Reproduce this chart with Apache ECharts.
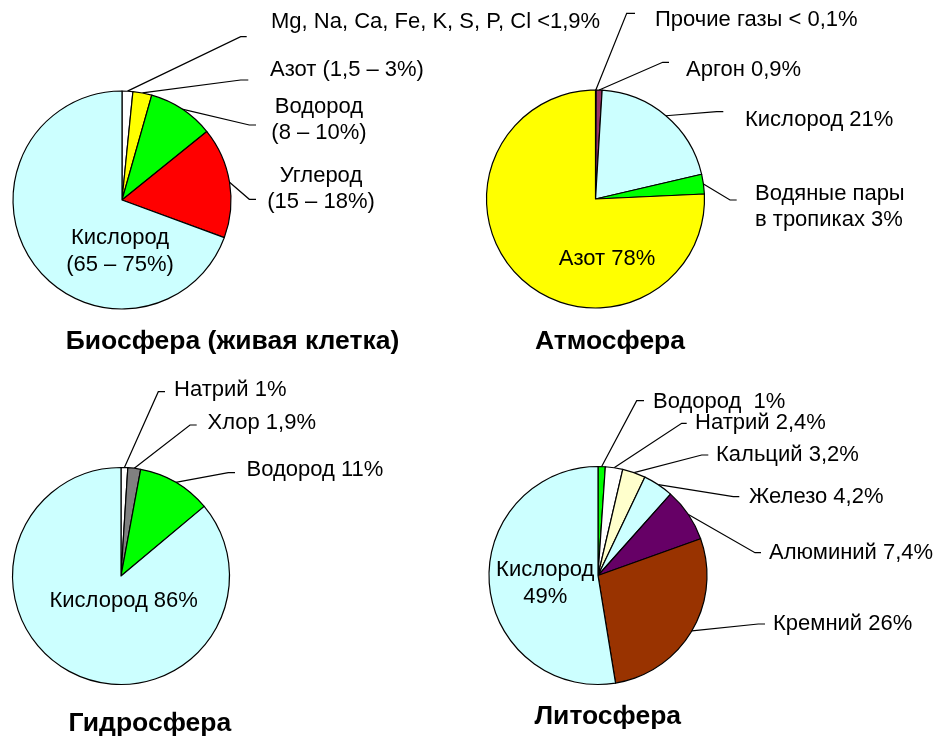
<!DOCTYPE html>
<html>
<head>
<meta charset="utf-8">
<script src="https://cdn.jsdelivr.net/npm/echarts@6/dist/echarts.min.js"></script>
<style>
html,body{margin:0;padding:0;background:#fff;}
#chart{width:939px;height:738px;}
</style>
</head>
<body>
<div id="chart"></div>
<script>
// ---------- DATA ----------
const bioNames = ['Mg, Na, Ca, Fe, K, S, P, Cl <1,9%', 'Азот (1,5 – 3%)', 'Водород\n(8 – 10%)', 'Углерод\n(15 – 18%)', 'Кислород\n(65 – 75%)'];
const bioValues = [1.6, 2.8, 9.8, 16.4, 69.4];

const atmNames = ['Прочие газы < 0,1%', 'Аргон 0,9%', 'Кислород 21%', 'Водяные пары\nв тропиках 3%', 'Азот 78%'];
const atmValues = [0.1, 0.9, 21, 3, 78];

const hydNames = ['Натрий 1%', 'Хлор 1,9%', 'Водород 11%', 'Кислород 86%'];
const hydValues = [1, 1.9, 11, 86];

const litNames = ['Водород  1%', 'Натрий 2,4%', 'Кальций 3,2%', 'Железо 4,2%', 'Алюминий 7,4%', 'Кремний 26%', 'Кислород\n49%'];
const litValues = [1, 2.4, 3.2, 4.2, 7.4, 26, 49];

const titles = ['Биосфера (живая клетка)', 'Атмосфера', 'Гидросфера', 'Литосфера'];

// ---------- STYLES / LAYOUT ----------
const FONT = '"Liberation Sans", Arial, sans-serif';
const bioColors = ['#FFFFFF', '#FFFF00', '#00FF00', '#FF0000', '#CCFFFF'];
const atmColors = ['#FFFFFF', '#993366', '#CCFFFF', '#00FF00', '#FFFF00'];
const hydColors = ['#FFFFFF', '#808080', '#00FF00', '#CCFFFF'];
const litColors = ['#00FF00', '#FFFFFF', '#FFFFCC', '#CCFFFF', '#660066', '#993300', '#CCFFFF'];

// label anchor positions and leader-line bends (pixels)
const bioLabelPos = [
  {x: 271, y: 22, align: 'left', elbow: [240.7, 36.7], end: [246.7, 36.7]},
  {x: 270, y: 70, align: 'left', elbow: [240.7, 80], end: [248.3, 80]},
  {x: 319, y: 120, align: 'center', elbow: [249.3, 125], end: [256, 125]},
  {x: 321, y: 189, align: 'center', elbow: [249.3, 199.3], end: [256, 199.3]},
  {x: 120, y: 251.5, align: 'center'}
];
const atmLabelPos = [
  {x: 655, y: 20, align: 'left', elbow: [626.7, 13.3], end: [635, 13.3]},
  {x: 686, y: 70, align: 'left', elbow: [662.7, 62.3], end: [669, 62.3]},
  {x: 745, y: 120, align: 'left', elbow: [716.7, 111.7], end: [723.3, 111.7]},
  {x: 755, y: 206.7, align: 'left', elbow: [730, 200], end: [736.7, 200]},
  {x: 607, y: 259.3, align: 'center'}
];
const hydLabelPos = [
  {x: 174, y: 390, align: 'left', elbow: [158.3, 391.7], end: [165, 391.7]},
  {x: 207.5, y: 423.3, align: 'left', elbow: [190, 425], end: [196.7, 425]},
  {x: 246.5, y: 470, align: 'left', elbow: [228.3, 472.7], end: [235, 472.7]},
  {x: 123.7, y: 601, align: 'center'}
];
const litLabelPos = [
  {x: 653, y: 401.7, align: 'left', elbow: [636.7, 400.7], end: [644, 400.7]},
  {x: 695, y: 423.3, align: 'left', elbow: [681.7, 423.3], end: [686.7, 423.3]},
  {x: 716, y: 455, align: 'left', elbow: [701.7, 455], end: [708.3, 455]},
  {x: 749, y: 496.7, align: 'left', elbow: [733.3, 496.7], end: [739.3, 496.7]},
  {x: 769, y: 552.7, align: 'left', elbow: [755, 552.7], end: [761, 552.7]},
  {x: 773, y: 624, align: 'left', elbow: [758.3, 624], end: [765, 624]},
  {x: 545.2, y: 583.3, align: 'center'}
];
const titlePos = [[232.5, 341.7], [610, 341.7], [149.8, 723.3], [607.8, 716.7]];

function makeData(names, values, colors, pos) {
  return names.map((n, i) => ({
    name: n,
    value: values[i],
    itemStyle: {color: colors[i]},
    labelLine: {show: !!pos[i].elbow}
  }));
}

function makeLayout(pos) {
  return function (params) {
    const c = pos[params.dataIndex];
    const out = {x: c.x, y: c.y, align: c.align, verticalAlign: 'middle'};
    if (c.elbow && params.labelLinePoints) {
      const p0 = params.labelLinePoints[0];
      out.labelLinePoints = [[p0[0], p0[1]], c.elbow.slice(), c.end.slice()];
    }
    return out;
  };
}

function makePie(names, values, colors, pos, center, radius) {
  return {
    type: 'pie',
    center: center,
    radius: radius,
    startAngle: 90,
    clockwise: true,
    avoidLabelOverlap: false,
    animation: false,
    silent: true,
    itemStyle: {borderColor: '#000', borderWidth: 1.2},
    label: {
      show: true,
      position: 'outside',
      formatter: '{b}',
      color: '#000',
      fontFamily: FONT,
      fontSize: 22,
      lineHeight: 26.5
    },
    labelLine: {show: true, length: 10, length2: 10, lineStyle: {color: '#000', width: 1.2}},
    labelLayout: makeLayout(pos),
    data: makeData(names, values, colors, pos)
  };
}

const chart = echarts.init(document.getElementById('chart'), null, {renderer: 'canvas'});
chart.setOption({
  backgroundColor: '#fff',
  animation: false,
  series: [
    makePie(bioNames, bioValues, bioColors, bioLabelPos, [122, 200], 109),
    makePie(atmNames, atmValues, atmColors, atmLabelPos, [595.5, 199], 109),
    makePie(hydNames, hydValues, hydColors, hydLabelPos, [121, 576], 108.5),
    makePie(litNames, litValues, litColors, litLabelPos, [598, 575.5], 109)
  ],
  graphic: titles.map((t, i) => ({
    type: 'text',
    x: titlePos[i][0],
    y: titlePos[i][1],
    silent: true,
    style: {
      text: t,
      align: 'center',
      verticalAlign: 'middle',
      fill: '#000',
      font: 'bold 26.5px ' + FONT
    }
  }))
});
</script>
</body>
</html>
